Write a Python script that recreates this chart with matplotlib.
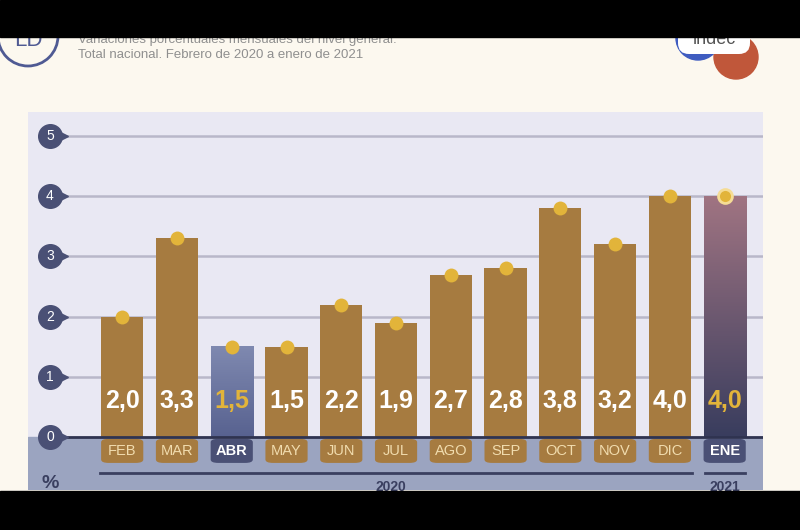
import numpy as np
import matplotlib.pyplot as plt
from matplotlib.patches import Rectangle, Circle, FancyBboxPatch

months = ['FEB', 'MAR', 'ABR', 'MAY', 'JUN', 'JUL', 'AGO', 'SEP', 'OCT', 'NOV', 'DIC', 'ENE']
values = [2.0, 3.3, 1.5, 1.5, 2.2, 1.9, 2.7, 2.8, 3.8, 3.2, 4.0, 4.0]
labels = ['2,0', '3,3', '1,5', '1,5', '2,2', '1,9', '2,7', '2,8', '3,8', '3,2', '4,0', '4,0']
yticks = [0, 1, 2, 3, 4, 5]
years = ['2020', '2021']

plt.rcParams['font.family'] = ['Liberation Sans', 'DejaVu Sans']

cream = '#fcf8ef'
panel = '#e9e8f3'
band = '#9ba4c0'
navy = '#4a5075'
brown = '#a67b40'
gold = '#e2b43a'
grid = '#b9b7c9'

fig = plt.figure(figsize=(8, 5.3), dpi=100)
fig.patch.set_facecolor(cream)

# background / header drawn in pixel coords
bg = fig.add_axes([0, 0, 1, 1])
bg.set_xlim(0, 800)
bg.set_ylim(530, 0)
bg.axis('off')
bg.add_patch(Circle((28, 36), 30, fill=False, ec='#4f5a93', lw=2))
bg.text(28, 40, 'LD', ha='center', va='center', fontsize=16, color='#4f5a93')
bg.text(78, 40, 'Variaciones porcentuales mensuales del nivel general.',
        fontsize=9.5, color='#8f8f8f', va='center')
bg.text(78, 55, 'Total nacional. Febrero de 2020 a enero de 2021',
        fontsize=9.5, color='#8f8f8f', va='center')
bg.add_patch(Circle((736, 57), 22, color='#c0573a'))
bg.add_patch(Circle((698, 38), 22, color='#3f5cc0'))
bg.add_patch(FancyBboxPatch((678, 26), 72, 28, boxstyle='round,pad=0,rounding_size=11',
                            fc='white', ec='none'))
bg.text(714, 40, 'indec', ha='center', va='center', fontsize=13, color='#555555')

ax = fig.add_axes([28 / 800, 40 / 530, 735 / 800, 378 / 530])
ax.set_xlim(-1.72, 11.70)
ax.set_ylim(-0.88, 5.4)
ax.axis('off')
ax.axhspan(0, 5.4, color=panel, zorder=0)
ax.axhspan(-0.88, 0, color=band, zorder=0)

x = np.arange(len(months))
w = 0.77
for t in yticks[1:]:
    ax.plot([-1.1, 11.70], [t, t], color=grid, lw=1.8, zorder=1, solid_capstyle='butt')
ax.plot([-1.1, 11.70], [0, 0], color='#2f3350', lw=2, zorder=4)

# y tick badges
for t in yticks:
    ax.plot(-1.12, t, marker='>', ms=10, color=navy, zorder=5)
    ax.plot(-1.32, t, marker='o', ms=17, color=navy, zorder=5)
    ax.text(-1.32, t, str(t), ha='center', va='center', color='white', fontsize=10, zorder=6)

special = {2: ('#7f89b0', '#586290'), 11: ('#a07482', '#393d5e')}
for i in x:
    v = values[i]
    if i in special:
        top, bot = special[i]
        c1 = np.array(plt.matplotlib.colors.to_rgb(top))
        c2 = np.array(plt.matplotlib.colors.to_rgb(bot))
        g = np.linspace(0, 1, 100)[:, None]
        img = (c1[None, :] * (1 - g) + c2[None, :] * g)[:, None, :]
        ax.imshow(img, extent=[i - w / 2, i + w / 2, 0, v], aspect='auto', zorder=2)
        tcol = gold
        box = navy
        mcol = 'white'
        bold = 'bold'
    else:
        ax.bar(i, v, width=w, color=brown, zorder=2)
        tcol = 'white'
        box = brown
        mcol = '#f1dcae'
        bold = 'normal'
    ax.text(i, 0.6, labels[i], ha='center', va='center', color=tcol,
            fontsize=18, fontweight='bold', zorder=6)
    ec = '#f5dc95' if i == 11 else gold
    ax.plot(i, v, 'o', ms=10, color=gold, mec=ec, mew=2 if i == 11 else 0, zorder=6)
    ax.add_patch(FancyBboxPatch((i - w / 2, -0.43), w, 0.4,
                                boxstyle='round,pad=0,rounding_size=0.14',
                                mutation_aspect=0.4, fc=box, ec='none', zorder=3))
    ax.text(i, -0.23, months[i], ha='center', va='center', color=mcol,
            fontsize=10.5, fontweight=bold, zorder=6)

ax.set_xlim(-1.72, 11.70)
ax.set_ylim(-0.88, 5.4)

ax.plot([-0.4, 10.4], [-0.6, -0.6], color='#3a3f60', lw=2, zorder=4)
ax.plot([10.65, 11.38], [-0.6, -0.6], color='#3a3f60', lw=2, zorder=4)
ax.text(4.9, -0.83, years[0], ha='center', va='center', fontsize=10,
        fontweight='bold', color='#3a3f60')
ax.text(11.0, -0.83, years[1], ha='center', va='center', fontsize=10,
        fontweight='bold', color='#3a3f60')
ax.text(-1.32, -0.78, '%', ha='center', va='center', fontsize=14,
        fontweight='bold', color='#3a3f60')

# black bands top and bottom
top_ax = fig.add_axes([0, 0, 1, 1])
top_ax.set_xlim(0, 800)
top_ax.set_ylim(530, 0)
top_ax.axis('off')
top_ax.add_patch(Rectangle((0, 0), 800, 37, color='black'))
top_ax.add_patch(Rectangle((0, 491), 800, 39, color='black'))

fig.savefig('out.png', dpi=100, facecolor=cream)
